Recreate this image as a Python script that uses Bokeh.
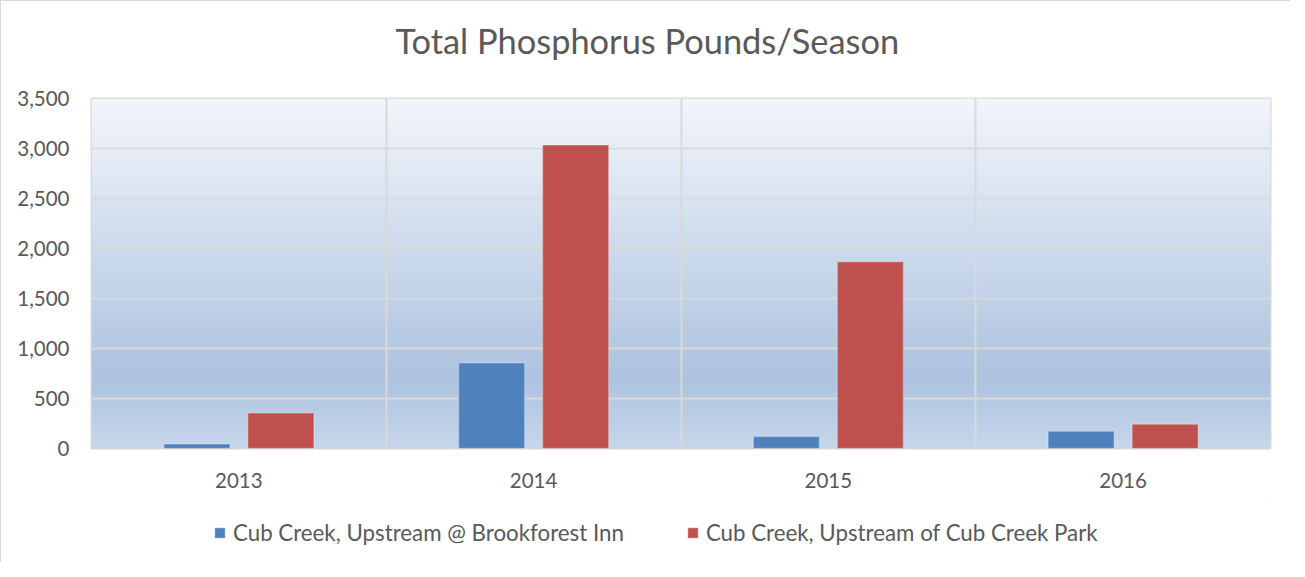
import numpy as np
from bokeh.plotting import figure
from bokeh.layouts import column
from bokeh.models import (ColumnDataSource, Range1d, FixedTicker, NumeralTickFormatter,
                          Legend, LegendItem)
from bokeh.core.properties import value
from bokeh.embed import file_html
from bokeh.resources import INLINE

# ---- data ----
title_text = "Total Phosphorus Pounds/Season"
years = ["2013", "2014", "2015", "2016"]
brookforest = [44, 855, 120, 173]
cub_creek_park = [354, 3035, 1867, 242]
series_names = ["Cub Creek, Upstream @ Brookforest Inn", "Cub Creek, Upstream of Cub Creek Park"]
series_colors = ["#4F81BD", "#C0504D"]
y_ticks = [0, 500, 1000, 1500, 2000, 2500, 3000, 3500]

FONT = "Lato"
TXT = "#595959"
GRID = "#d9d9d9"
W = 1289

idx = np.arange(len(years))
centers = idx + 0.5
offset = 0.1425
bar_w = 0.224


def bare(h, x_range=(0, 1), y_range=(0, 1)):
    f = figure(width=W, height=h, output_backend="svg", toolbar_location=None,
               x_range=Range1d(*x_range), y_range=Range1d(*y_range),
               x_axis_type=None, y_axis_type=None, min_border=0)
    f.outline_line_color = None
    f.xgrid.visible = False
    f.ygrid.visible = False
    f.background_fill_color = "white"
    f.border_fill_color = "white"
    return f


# ---- title strip ----
TH = 77
pt = bare(TH)
pt.text(x=[0.4714], y=[1 - 39 / TH], text=[title_text], text_font=value(FONT),
        text_font_size="34.4px", text_color=TXT, text_align="center", text_baseline="middle")

# ---- main chart ----
p = figure(width=W, height=423, output_backend="svg", toolbar_location=None,
           x_range=Range1d(0, len(years)), y_range=Range1d(0, y_ticks[-1]),
           min_border_left=90, min_border_right=20, min_border_top=20, min_border_bottom=53)

# gradient plot-area background
stops_y = [0, 700, 3500]
stops_c = np.array([[199, 215, 235], [173, 195, 224], [243, 246, 251]], dtype=float)
ys = np.linspace(0, y_ticks[-1], 350)
rgb = np.stack([np.interp(ys, stops_y, stops_c[:, k]) for k in range(3)], axis=1).astype(np.uint32)
img = np.zeros((350, 1), dtype=np.uint32)
view = img.view(dtype=np.uint8).reshape((350, 1, 4))
view[:, 0, 0] = rgb[:, 0]
view[:, 0, 1] = rgb[:, 1]
view[:, 0, 2] = rgb[:, 2]
view[:, 0, 3] = 255
p.image_rgba(image=[img], x=0, y=0, dw=len(years), dh=y_ticks[-1], level="image")

src = ColumnDataSource(dict(x1=centers - offset, x2=centers + offset,
                            b=brookforest, c=cub_creek_park))
bar_style = dict(line_color="white", line_alpha=0.25, line_width=1.5)
p.vbar(x="x1", top="b", width=bar_w, source=src, fill_color=series_colors[0], **bar_style)
p.vbar(x="x2", top="c", width=bar_w, source=src, fill_color=series_colors[1], **bar_style)

p.yaxis.ticker = FixedTicker(ticks=y_ticks)
p.yaxis.formatter = NumeralTickFormatter(format="0,0")
p.xaxis.ticker = FixedTicker(ticks=list(centers))
p.xaxis.major_label_overrides = {float(c): y for c, y in zip(centers, years)}
for ax in (p.xaxis, p.yaxis):
    ax.axis_line_color = None
    ax.major_tick_line_color = None
    ax.minor_tick_line_color = None
    ax.major_label_text_font = FONT
    ax.major_label_text_font_size = "20.5px"
    ax.major_label_text_color = TXT
p.yaxis.major_label_standoff = 16
p.xaxis.major_label_standoff = 18

p.ygrid.ticker = FixedTicker(ticks=y_ticks)
p.ygrid.grid_line_color = GRID
p.ygrid.grid_line_width = 2
p.xgrid.ticker = FixedTicker(ticks=list(idx[1:]))
p.xgrid.grid_line_color = GRID
p.xgrid.grid_line_width = 2
p.outline_line_color = GRID
p.outline_line_width = 2
p.background_fill_color = "white"
p.border_fill_color = "white"

# ---- legend strip (its bars fall entirely outside this strip's view) ----
pl = bare(61, x_range=(-20, -19), y_range=(-20, -19))
l1 = pl.vbar(x="x1", top="b", width=bar_w, source=src, fill_color=series_colors[0], **bar_style)
l2 = pl.vbar(x="x2", top="c", width=bar_w, source=src, fill_color=series_colors[1], **bar_style)
legend = Legend(items=[LegendItem(label=series_names[0], renderers=[l1]),
                       LegendItem(label=series_names[1], renderers=[l2])],
                orientation="horizontal", location=(122, 16))
legend.label_text_font = FONT
legend.label_text_font_size = "22.3px"
legend.label_text_color = TXT
legend.glyph_width = 13
legend.glyph_height = 13
legend.label_standoff = 7
legend.spacing = 62
legend.border_line_color = None
legend.background_fill_alpha = 0
legend.margin = 0
legend.padding = 0
pl.add_layout(legend)

layout = column(pt, p, pl, spacing=0)
layout.styles = {"border-left": "1.5px solid #d9d9d9", "border-top": "1.5px solid #d9d9d9"}

open("out.html", "w").write(file_html(layout, INLINE))
